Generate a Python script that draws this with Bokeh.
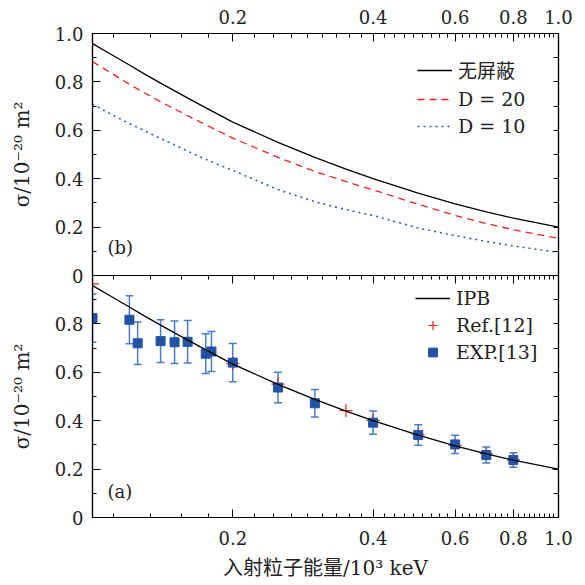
from bokeh.plotting import figure
from bokeh.models import (Range1d, FixedTicker, LogAxis, LinearAxis, PrintfTickFormatter,
                          CustomJSTickFormatter, Legend, LegendItem, Label,
                          ColumnDataSource, Whisker, TeeHead)
from bokeh.layouts import column
from bokeh.embed import file_html
from bokeh.resources import INLINE

# ---------------- data ----------------
energy = [0.10, 0.11, 0.12, 0.13, 0.14, 0.15, 0.17, 0.20, 0.25, 0.30,
          0.35, 0.40, 0.50, 0.60, 0.70, 0.80, 0.90, 1.00]
sigma_noshield = [0.958, 0.912, 0.870, 0.830, 0.795, 0.763, 0.706, 0.634, 0.550, 0.488,
                  0.440, 0.400, 0.340, 0.296, 0.263, 0.237, 0.217, 0.200]
sigma_d20 = [0.884, 0.835, 0.790, 0.752, 0.718, 0.688, 0.635, 0.568, 0.488, 0.430,
             0.388, 0.354, 0.294, 0.248, 0.215, 0.189, 0.170, 0.154]
sigma_d10 = [0.708, 0.665, 0.628, 0.596, 0.566, 0.540, 0.490, 0.434, 0.355, 0.305,
             0.272, 0.248, 0.196, 0.165, 0.141, 0.122, 0.108, 0.096]
sigma_ipb = [0.958, 0.912, 0.870, 0.830, 0.795, 0.763, 0.706, 0.634, 0.550, 0.488,
             0.440, 0.400, 0.340, 0.296, 0.263, 0.237, 0.217, 0.200]

ref12_energy = [0.10, 0.20, 0.25, 0.35, 0.40, 0.50, 0.60, 0.70, 0.80, 1.00]
ref12_sigma = [0.965, 0.636, 0.551, 0.442, 0.401, 0.342, 0.298, 0.264, 0.238, 0.200]

exp13_energy = [0.100, 0.120, 0.125, 0.140, 0.150, 0.160, 0.175, 0.180, 0.200,
                0.250, 0.300, 0.400, 0.500, 0.600, 0.700, 0.800]
exp13_sigma = [0.824, 0.817, 0.720, 0.729, 0.724, 0.726, 0.677, 0.686, 0.640,
               0.537, 0.472, 0.392, 0.341, 0.302, 0.258, 0.238]
exp13_err = [0.100, 0.099, 0.088, 0.088, 0.088, 0.088, 0.082, 0.083, 0.079,
             0.063, 0.057, 0.048, 0.042, 0.038, 0.033, 0.030]

x_major_ticks = [0.2, 0.4, 0.6, 0.8, 1.0]
x_minor_step = 0.2 / 9
x_minor_ticks = [k * x_minor_step for k in range(5, 46) if k % 9 != 0]
y_major_ticks_top = [0, 0.2, 0.4, 0.6, 0.8, 1.0]
y_major_ticks_bottom = [0, 0.2, 0.4, 0.6, 0.8]
y_minor_ticks = [0.1, 0.3, 0.5, 0.7, 0.9]
y_side_ticks = [0, 0.1, 0.2, 0.3, 0.4, 0.5, 0.6, 0.7, 0.8, 0.9, 1.0]

FONT = "DejaVu Serif"
CJK_FONT = "DejaVu Serif, Noto Sans CJK SC"
TXT = "#222222"
RED = "#ee2222"
BLUE_LINE = "#2f5fbf"
BLUE_SQ = "#2252a3"
BLUE_ERR = "#4a7cc6"

FW, FH = 466, 242
LEFT, RIGHT = 92, 27
OVERLAP = 12

y_fmt = CustomJSTickFormatter(code="return tick == 0 ? '0' : tick.toFixed(1);")


def style_axis(ax, labels=True, size="18px"):
    ax.axis_line_color = "black"
    ax.axis_line_width = 1.2
    ax.major_tick_in = 8
    ax.major_tick_out = 0
    ax.minor_tick_in = 4
    ax.minor_tick_out = 0
    ax.major_tick_line_color = "black"
    ax.minor_tick_line_color = "black"
    ax.major_tick_line_width = 1
    ax.minor_tick_line_width = 1
    ax.major_label_text_font = FONT
    ax.major_label_text_color = TXT
    if labels:
        ax.major_label_text_font_size = size
    else:
        ax.formatter = CustomJSTickFormatter(code="return '';")
        ax.major_label_text_font_size = "1px"
        ax.major_label_standoff = 0


def make_fig(top_border, bottom_border, x_loc):
    p = figure(frame_width=FW, frame_height=FH, x_axis_type="log",
               x_range=Range1d(0.1, 1.0), y_range=Range1d(0, 1),
               x_axis_location=x_loc, toolbar_location=None, output_backend="svg",
               min_border_left=LEFT, min_border_right=RIGHT,
               min_border_top=top_border, min_border_bottom=bottom_border)
    p.xgrid.visible = False
    p.ygrid.visible = False
    p.outline_line_color = "black"
    p.outline_line_width = 1.2
    p.background_fill_color = "white"
    return p


def style_legend(lg):
    lg.border_line_color = None
    lg.background_fill_alpha = 0
    lg.padding = 0
    lg.margin = 0
    lg.spacing = 5
    lg.glyph_width = 35
    lg.glyph_height = 22
    lg.label_height = 22
    lg.label_standoff = 6
    lg.label_text_font = CJK_FONT
    lg.label_text_font_size = "19px"
    lg.label_text_color = TXT


def style_ylabel(ax):
    ax.axis_label = "σ/10⁻²⁰ m²"
    ax.axis_label_text_font = FONT
    ax.axis_label_text_font_style = "normal"
    ax.axis_label_text_font_size = "20px"
    ax.axis_label_text_color = TXT
    ax.axis_label_standoff = 18


# ---------------- top panel (b) ----------------
p1 = make_fig(33, OVERLAP, "above")
p1.margin = (0, 0, -OVERLAP, 0)
xa = p1.xaxis[0]
xa.ticker = FixedTicker(ticks=x_major_ticks, minor_ticks=x_minor_ticks)
xa.formatter = PrintfTickFormatter(format="%.1f")
style_axis(xa)
xa.major_label_standoff = 10

ya = p1.yaxis[0]
ya.ticker = FixedTicker(ticks=y_major_ticks_top, minor_ticks=y_minor_ticks)
ya.formatter = y_fmt
style_axis(ya)
ya.major_label_standoff = 9
style_ylabel(ya)

ra1 = LinearAxis(ticker=FixedTicker(ticks=y_side_ticks))
style_axis(ra1, labels=False)
ra1.major_tick_in = 5
p1.add_layout(ra1, "right")

r_ns = p1.line(energy, sigma_noshield, line_color="black", line_width=1.3)
r_d20 = p1.line(energy, sigma_d20, line_color=RED, line_width=1.3, line_dash="7 5")
r_d10 = p1.line(energy, sigma_d10, line_color=BLUE_LINE, line_width=1.6, line_dash="2 4")

leg1 = Legend(items=[LegendItem(label="无屏蔽", renderers=[r_ns]),
                     LegendItem(label="D = 20", renderers=[r_d20]),
                     LegendItem(label="D = 10", renderers=[r_d10])],
              location=(325, 138))
style_legend(leg1)
p1.add_layout(leg1)

p1.add_layout(Label(x=15, y=28, x_units="screen", y_units="screen", text="(b)",
                    text_font=FONT, text_font_size="18px", text_color=TXT,
                    text_baseline="middle"))

# ---------------- bottom panel (a) ----------------
p2 = make_fig(0, 68, "below")
p2.border_fill_alpha = 0
xb = p2.xaxis[0]
xb.ticker = FixedTicker(ticks=x_major_ticks, minor_ticks=x_minor_ticks)
xb.formatter = PrintfTickFormatter(format="%.1f")
style_axis(xb)
xb.major_label_standoff = 13
xb.axis_label = "入射粒子能量/10³ keV"
xb.axis_label_text_font = CJK_FONT
xb.axis_label_text_font_style = "normal"
xb.axis_label_text_font_size = "20px"
xb.axis_label_text_color = TXT
xb.axis_label_standoff = 8

ta2 = LogAxis(ticker=FixedTicker(ticks=x_major_ticks, minor_ticks=x_minor_ticks))
style_axis(ta2, labels=False)
p2.add_layout(ta2, "above")

yb = p2.yaxis[0]
yb.ticker = FixedTicker(ticks=y_major_ticks_bottom, minor_ticks=y_minor_ticks + [1.0])
yb.formatter = y_fmt
style_axis(yb)
yb.major_label_standoff = 9
style_ylabel(yb)

ra2 = LinearAxis(ticker=FixedTicker(ticks=y_side_ticks))
style_axis(ra2, labels=False)
ra2.major_tick_in = 5
p2.add_layout(ra2, "right")

exp_src = ColumnDataSource(data=dict(
    x=exp13_energy, y=exp13_sigma,
    upper=[s + e for s, e in zip(exp13_sigma, exp13_err)],
    lower=[s - e for s, e in zip(exp13_sigma, exp13_err)]))

wh = Whisker(source=exp_src, base="x", upper="upper", lower="lower",
             line_color=BLUE_ERR, line_width=1.5, level="underlay",
             upper_head=TeeHead(size=8, line_color=BLUE_ERR, line_width=1.5),
             lower_head=TeeHead(size=8, line_color=BLUE_ERR, line_width=1.5))
p2.add_layout(wh)

r_ref = p2.scatter(ref12_energy, ref12_sigma, marker="cross", size=13,
                   line_color=RED, line_width=1.2)
r_exp = p2.scatter("x", "y", source=exp_src, marker="square", size=9,
                   fill_color=BLUE_SQ, line_color=BLUE_SQ)
r_ipb = p2.line(energy, sigma_ipb, line_color="black", line_width=1.3)

leg2 = Legend(items=[LegendItem(label="IPB", renderers=[r_ipb]),
                     LegendItem(label="Ref.[12]", renderers=[r_ref]),
                     LegendItem(label="EXP.[13]", renderers=[r_exp])],
              location=(323, 154))
style_legend(leg2)
p2.add_layout(leg2)

p2.add_layout(Label(x=15, y=26, x_units="screen", y_units="screen", text="(a)",
                    text_font=FONT, text_font_size="18px", text_color=TXT,
                    text_baseline="middle"))

layout = column(p1, p2, spacing=0)
open("out.html", "w").write(file_html(layout, INLINE))
